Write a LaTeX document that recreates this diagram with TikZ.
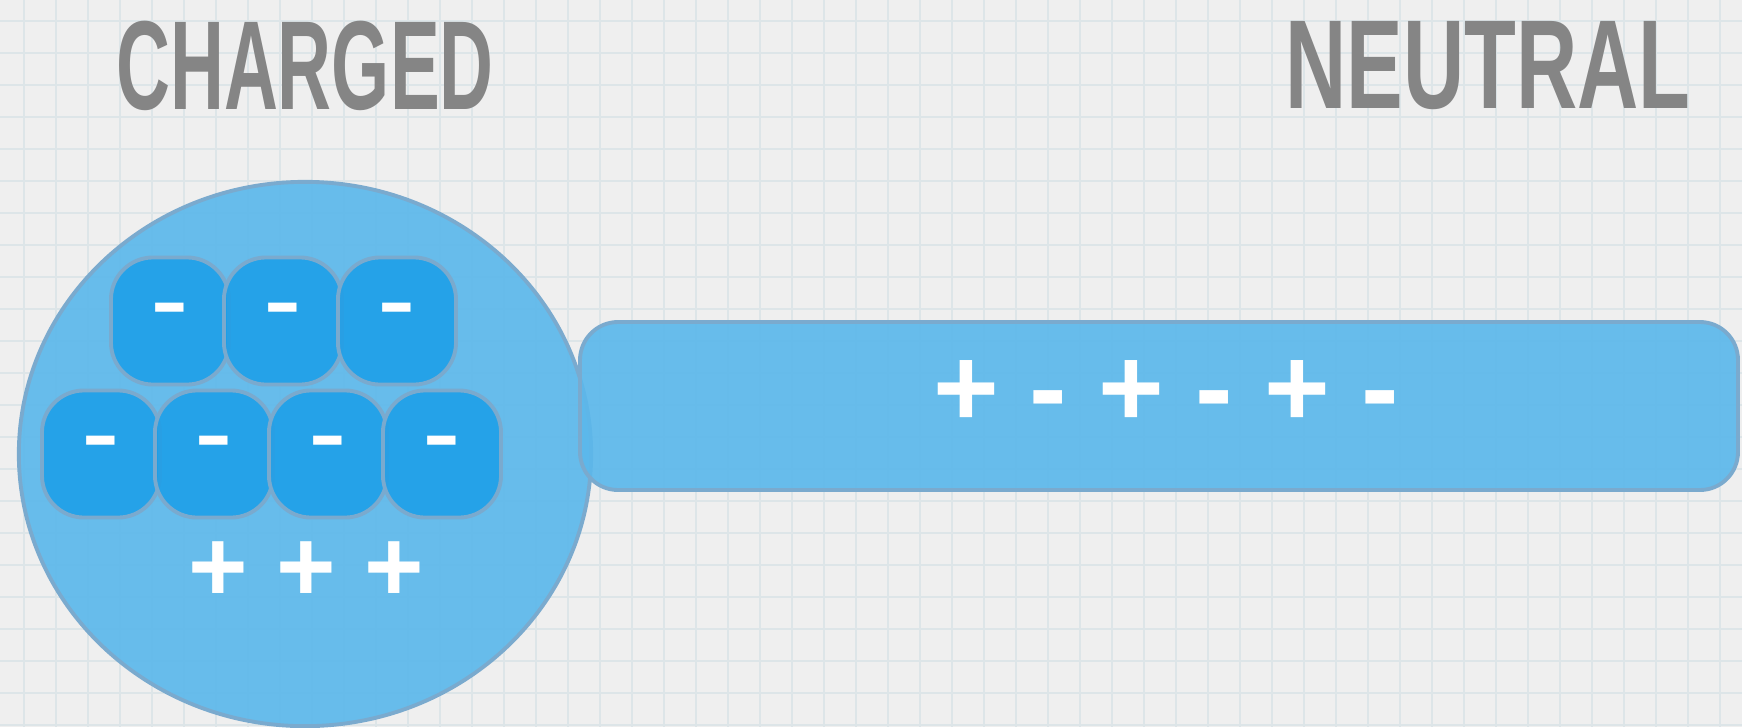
\documentclass[tikz,border=0pt]{standalone}
\usepackage{fontspec}
\setmainfont{Liberation Sans}
\usetikzlibrary{positioning}

\definecolor{paper}{HTML}{EFEFEF}
\definecolor{gridline}{HTML}{DDE5E8}
\definecolor{titlegray}{HTML}{858585}
\definecolor{bodyblue}{HTML}{5CB8EB}
\definecolor{chargeblue}{HTML}{1A9EE8}
\definecolor{edgeblue}{HTML}{7AAACE}

\begin{document}
\begin{tikzpicture}[x=0.01cm, y=-0.01cm,
    title/.style={text=titlegray, inner sep=0pt, font=\fontsize{36}{36}\selectfont\bfseries},
    body/.style={draw=edgeblue, line width=1.1pt, fill=bodyblue, fill opacity=0.92},
    chargebox/.style={draw=edgeblue, line width=1.1pt, fill=chargeblue, fill opacity=0.85,
        text opacity=1, text=white, rounded corners=0.42cm, inner sep=0pt,
        minimum width=1.18cm, minimum height=1.27cm, font=\fontsize{33}{33}\selectfont},
    signs/.style={text=white, inner sep=0pt}]
    \useasboundingbox (0,0) rectangle (1742,727);
    \fill[paper] (0,0) rectangle (1742,727);
    
    % graph paper
    \foreach \gx in {24,56,...,1742}
        \draw[gridline, line width=0.5pt] (\gx,0) -- (\gx,727);
    \foreach \gy in {21,53,...,727}
        \draw[gridline, line width=0.5pt] (0,\gy) -- (1742,\gy);
    
    \node[title] (T1) at (305,66) {\scalebox{0.59}[1]{CHARGED}};
    \node[title] (T2) at (1488,66) {\scalebox{0.67}[1]{NEUTRAL}};
    
    % charged ball
    \coordinate (Ball) at (305,454);
    \draw[body] (Ball) ellipse [x radius=2.86cm, y radius=2.72cm];
    
    \node[chargebox] (B1) at (170,321) {-};
    \node[chargebox] (B2) at (283,321) {-};
    \node[chargebox] (B3) at (397,321) {-};
    \node[chargebox] (B4) at (101,454) {-};
    \node[chargebox] (B5) at (214,454) {-};
    \node[chargebox] (B6) at (328,454) {-};
    \node[chargebox] (B7) at (442,454) {-};
    
    \node[signs, font=\fontsize{29}{29}\selectfont\bfseries] (P1) at (306,572) {+ + +};
    
    % neutral rod
    \draw[body, rounded corners=0.38cm] (580,322) rectangle (1738,490);
    \node[signs, font=\fontsize{32}{32}\selectfont\bfseries] (P2) at (1166,393) {+ - + - + -};
\end{tikzpicture}
\end{document}
